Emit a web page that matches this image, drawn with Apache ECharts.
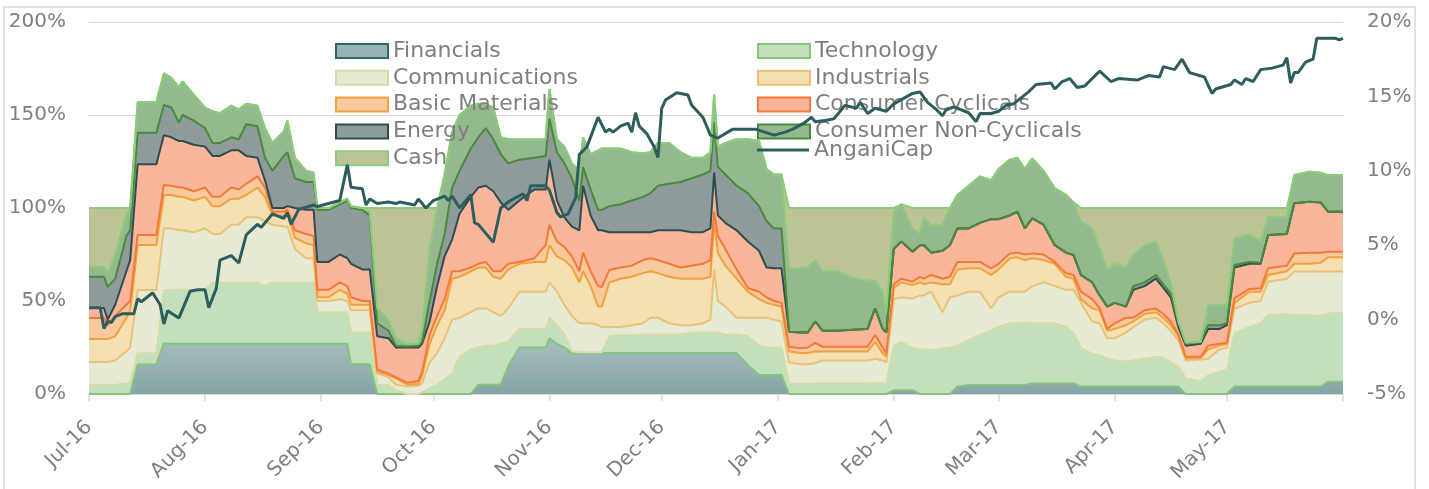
<!DOCTYPE html>
<html><head><meta charset="utf-8">
<script src="https://cdn.jsdelivr.net/npm/echarts@6/dist/echarts.min.js"></script>
<style>html,body{margin:0;padding:0;background:#fff}#c{width:1429px;height:489px}</style>
</head><body><div id="c"></div>
<script>
// ---- data (percent of portfolio) ----
const dates = ['2016-07-01','2016-07-05','2016-07-06','2016-07-08','2016-07-11','2016-07-12','2016-07-14','2016-07-19','2016-07-21','2016-07-23',
'2016-07-25','2016-07-26','2016-07-29','2016-08-01','2016-08-03','2016-08-05','2016-08-08','2016-08-10','2016-08-12','2016-08-15',
'2016-08-17','2016-08-19','2016-08-22','2016-08-23','2016-08-25','2016-08-28','2016-08-30','2016-08-31','2016-09-03','2016-09-06',
'2016-09-08','2016-09-09','2016-09-12','2016-09-14','2016-09-16','2016-09-19','2016-09-21','2016-09-24','2016-09-27','2016-09-28',
'2016-09-30','2016-10-02','2016-10-04','2016-10-06','2016-10-08','2016-10-11','2016-10-13','2016-10-15','2016-10-17','2016-10-19',
'2016-10-21','2016-10-24','2016-10-28','2016-10-31','2016-11-01','2016-11-03','2016-11-05','2016-11-07','2016-11-09','2016-11-10',
'2016-11-12','2016-11-14','2016-11-15','2016-11-17','2016-11-20','2016-11-23','2016-11-26','2016-11-28','2016-11-30','2016-12-03',
'2016-12-06','2016-12-09','2016-12-12','2016-12-14','2016-12-15','2016-12-16','2016-12-18','2016-12-21','2016-12-24','2016-12-27',
'2016-12-29','2016-12-31','2017-01-02','2017-01-04','2017-01-07','2017-01-09','2017-01-11','2017-01-13','2017-01-17','2017-01-21',
'2017-01-25','2017-01-27','2017-01-29','2017-01-30','2017-02-01','2017-02-03','2017-02-06','2017-02-08','2017-02-09','2017-02-11',
'2017-02-14','2017-02-16','2017-02-18','2017-02-21','2017-02-24','2017-02-27','2017-03-01','2017-03-04','2017-03-06','2017-03-08',
'2017-03-10','2017-03-13','2017-03-16','2017-03-19','2017-03-21','2017-03-23','2017-03-26','2017-03-28','2017-03-30','2017-04-01',
'2017-04-04','2017-04-06','2017-04-09','2017-04-12','2017-04-14','2017-04-16','2017-04-18','2017-04-20','2017-04-24','2017-04-26',
'2017-04-29','2017-05-01','2017-05-03','2017-05-07','2017-05-10','2017-05-12','2017-05-17','2017-05-19','2017-05-23','2017-05-26',
'2017-05-28','2017-06-01'];

const financials = [0,0,0,0,0,0,15.9,15.9,27.2,27, 27,27,27,27,27,27,27,27,27,27, 27,27,27,27,27,27,27,27,27,27,
27,16,16,16,0,0,0,0,0,0, 0,0,0,0,0,0,5,5,5,5, 15,25,25,25,30,27,25,22,22,22, 22,22,22,22,22,22,22,22,22,22,
22,22,22,22,22,22,22,22,15.6,10.2, 10.2,10.2,10.2,0,0,0,0,0,0,0, 0,0,0,0,2,2,2,0,0,0, 0,0,4,4.8,4.8,4.8,4.8,4.8,4.8,4.8,
5.7,5.7,5.7,5.7,5.7,4,4,4,4,4, 4,4,4,4,4,4,4,0,0,0, 0,0,4,4,4,4,4,4,4,4, 6.6,6.6];

const technology = [4.8,4.8,4.8,5,5.5,6,6,6,28.7,29, 29,29,29,29,33,33,33,33,33,33, 31,33,33,33,33,33,33,17,17,17,
17,17,17,17,4.8,4.8,2,0,0,1, 3,5,8,11,20,24,20,21,21,22, 13,10,10,10,11,10,7,1,0.5,0.5, 0.5,0.5,0.5,9,9.5,9.5,10,10,10,10,
10,11,11,11,11,11,10,10,15.4,15.8, 14.8,14.8,14.8,5.7,5.5,5.5,5.5,5.7,5.7,5.7, 5.7,6,5.7,5.5,24,26,22.6,24,24,23.5,
24.5,25,22,24.2,26.9,29.2,31.2,33.2,33.2,33.7, 32.3,32.3,32.3,30.3,27.3,20.6,17.5,17,15,14, 13.5,14,15,16,15.5,13,11,8.4,7,10,
12,13,28.6,32,34,38.5,39,38.5,38.5,38, 36.8,36.8];

const communications = [12.4,12.4,12.4,13,17.5,19,34,34,33.2,33, 32,32,31,33,26,26,31,31,35,35, 35,31,30,30,18,13,13,6,6,7,
6,12,12,12,6.2,4.2,3,4,4.5,5, 14,17,22,29,21,20,21,20,18,15, 18,20,20,20,19,18,16,19,15.5,15.5, 15.5,14.5,13.5,5,4.5,5.5,6,9,9,6,
5,4,5,7,34,17,15,9,10,15, 16,15,14,11.3,10.5,10.5,11,12.3,12.3,12.3, 12.3,13,12.3,11.5,25,24,26.8,29,29,31.5,
19.5,27,27,26,23.3,12,16,17,17,16.5, 20,22,20,20,23,24.4,17.5,17,11,12, 15.5,18,21,21,18.5,17,14,9.6,11.5,9,
12,12,13.4,13,12,17.9,19,23.3,23.3,23.8, 22.4,22.4];

const industrials = [12.4,12.4,12.4,13,18,20,24.2,24.2,17.9,18, 18,18,17,17,15,15,14,14,12,16, 13,5,6,7,6,8,7,2,2,5,
4,3,3,3,1,1,3.5,1,1,4, 10,15,15,22,22,22,22,22,19,20, 21,15,16,16,20,19,24,26,22,28, 20,10,11,24,26,26,27,25,24,25,
25,25,24,23,25,26,22,21,14,10, 8,8,8,5.8,6,6,6.5,4.8,4.8,4.8, 4.8,9,4,3,6,8,7.2,7,6,5,
15,7,14,12.6,12.6,18,15,18,18.5,17, 15,12,12,7,6,2,7,7,4,5, 4,3,3,3,3,3,2,1,1,5,
2,2,3,6,5,3.6,4,4.2,4.2,4.7, 7.7,7.7];

const basicMaterials = [11.3,11.3,7.4,11,7,5,5.4,5.4,5.4,5, 5,5,5,5,5,5,6,5,6,6, 5,2,2,2,4,5,5,4,4,4,
4,4,2,2,1,1,0.5,1,1.5,2, 5,5,6,4,3,2,2,3,3,4, 3,1,2,9,11,8,7,6,6,10, 8,11,10.5,6.7,6,6,7,7,7,7,
6,7,8,9,6,9,9,5,2,4, 3,2,2,2.6,2.6,3,4.5,2.6,2.6,2.6, 2.6,3.7,3,2,2,2,1.8,3,3,4,
3,4,4,3.4,3.4,3.5,3,2.6,2.5,3, 2.6,3,1,2,2,4,5,1,1,3, 4,2,2,2,2,2,1,1,0.5,2,
1,0.5,2.4,1.5,1.8,3.6,3,5.6,6,5.5, 3,3];

const consumerCyclicals = [5.3,5.3,3,6,18,22,38,38,26.8,26, 25,25,25,22,22,22,20,21,15,10, 4,2,2,2,12,13,14,15,15,15,
15,18,17,17,18,19,16,19,18,15, 7,16,23,17,31,38,41,41,43,37, 29,33,37,30,35,22,16,16,22,36, 30,30,30.5,20.3,19,18,15,14,16,18,
20,18,17,17,21,11,14,21,25,22, 16,17.6,18.6,8.1,8.4,8,11.5,8.6,8.6,9.1, 9.6,14.3,10,11,19,20,16.1,17,18,12,
15,17,18,18,21,26.5,24,20.4,22,14, 18.8,16,9,11,10.7,9,9,7,12,11, 6,15,13,16,14,13,4,6,7,9,
8,9.5,16.6,13.5,13.2,17.9,17,26.9,27.4,27, 21.5,21.5];

const energy = [16.8,16.8,17.6,14,19,16,17,17,16.2,16, 10,14,13,10,7,7,7,6,17,17, 12,20,28,29,16,15,15,28,28,27,
31,30,32,29,7,4,1,0.5,1,1, 11,12,12,28,23,26,27,31,28,26, 25,22,17,18,22,26,29,26,16,10, 14,11,11,14,15,17,19,21,24,25,
26,29,31,31,27,26,26,24,26,24, 25,21.4,21.4,0,0,0,0,0,0,0, 0,0,0,0,0,0,0,0,0,0,
0,0,0,0,0,0,0,0,0,0, 0,0,0,0,0,0,0,0,0,0, 0,2,2,2,2,2,2,1,1,2,
2,1,1.4,1,0.5,0,0,0,0,0, 0,0];

const consumerNonCyclicals = [5.5,5.5,7.4,13,12,12,16.3,16.3,17,16, 19,18,14,11,17,16,17,16,11,11, 16,15,13,17,11,6,5,1,1,1,
1,1,1,2,8,6,4,1.5,1,7, 28,30,32,30,30,23,18,13,17,9, 13,11,10,9,16,7,9,8,16,16, 19,32,33,31,30,26,23.5,22,23,22,
16,11,9,10,15,11,17,25,29,35, 28,29,29,34.1,34.6,35,33,32,32,28, 26,15,20,11,20,20,12.5,6,15,15,
14,20,18,23,25,21,27,30,29,32, 32.3,29,30.6,31,28.3,29,29,25,19.7,21, 21,17,20,18,13,6,1,0.5,0,10.8,
11,10,14.3,15,11.5,9.8,9.3,15.2,16.1,16, 19.7,19.7];

const cash = [31.5,31.5,35,25,3,0,0,0,0,0, 0,0,0,0,0,0,0,0,0,0, 0,0,0,0,0,0,0,0,0,0,
0,0,0,2,54,60,70,73,73,65, 22,0,0,0,0,0,0,0,0,0, 0,0,0,0,0,0,0,0,0,0, 0,0,0,0,0,0,0,0,0,0,
0,0,0,0,0,0,0,0,0,0, 0,0,0,32.4,32.4,32,28,34,34,37.5, 39,39,45,56,2,0,11,14,5,9,
9,0,0,0,0,0,0,0,0,0, 0,0,0,0,0,7,11,22,33.3,30, 32,25,20,18,28,40,61,72.5,72,52.2,
52,52,16.3,14,18,4.7,4.7,0,0,0, 0,0];

// AnganiCap cumulative return (right axis, %)
const anganiDates = ['2016-07-01','2016-07-04','2016-07-05','2016-07-06','2016-07-07','2016-07-08','2016-07-10','2016-07-13','2016-07-14','2016-07-15',
'2016-07-17','2016-07-18','2016-07-20','2016-07-21','2016-07-22','2016-07-25','2016-07-28','2016-07-30','2016-08-01','2016-08-02',
'2016-08-04','2016-08-05','2016-08-08','2016-08-10','2016-08-12','2016-08-15','2016-08-16','2016-08-19','2016-08-22','2016-08-23',
'2016-08-24','2016-08-26','2016-08-30','2016-08-31','2016-09-06','2016-09-08','2016-09-09','2016-09-12','2016-09-13','2016-09-14',
'2016-09-16','2016-09-19','2016-09-21','2016-09-22','2016-09-26','2016-09-27','2016-09-29','2016-10-01','2016-10-04','2016-10-05',
'2016-10-06','2016-10-08','2016-10-11','2016-10-12','2016-10-13','2016-10-17','2016-10-19','2016-10-21','2016-10-23','2016-10-25',
'2016-10-26','2016-10-27','2016-10-31','2016-11-01','2016-11-03','2016-11-04','2016-11-06','2016-11-08','2016-11-09','2016-11-11',
'2016-11-14','2016-11-16','2016-11-17','2016-11-18','2016-11-20','2016-11-22','2016-11-23','2016-11-24','2016-11-25','2016-11-27',
'2016-11-29','2016-11-30','2016-12-01','2016-12-02','2016-12-05','2016-12-08','2016-12-09','2016-12-12','2016-12-14','2016-12-16',
'2016-12-20','2016-12-23','2016-12-26','2016-12-31','2017-01-03','2017-01-05','2017-01-08','2017-01-10','2017-01-11','2017-01-14',
'2017-01-16','2017-01-19','2017-01-22','2017-01-23','2017-01-25','2017-01-27','2017-01-30','2017-02-01','2017-02-06','2017-02-08',
'2017-02-10','2017-02-12','2017-02-14','2017-02-15','2017-02-17','2017-02-21','2017-02-23','2017-02-24','2017-02-27','2017-03-01',
'2017-03-03','2017-03-05','2017-03-09','2017-03-11','2017-03-15','2017-03-16','2017-03-18','2017-03-20','2017-03-22','2017-03-24',
'2017-03-28','2017-03-31','2017-04-02','2017-04-07','2017-04-10','2017-04-13','2017-04-14','2017-04-17','2017-04-19','2017-04-21',
'2017-04-25','2017-04-27','2017-04-28','2017-05-02','2017-05-03','2017-05-05','2017-05-06','2017-05-08','2017-05-10','2017-05-13',
'2017-05-16','2017-05-17','2017-05-18','2017-05-19','2017-05-20','2017-05-22','2017-05-24','2017-05-25','2017-05-27','2017-05-30',
'2017-05-31','2017-06-01'];
const anganiCap = [0.8,0.8,-0.6,-0.1,-0.2,0.2,0.4,0.4,1.4,1.2,
1.6,1.8,1.0,-0.3,0.6,0.1,1.9,2.0,2.0,0.8,
2.1,4.0,4.3,3.8,5.7,6.4,6.2,7.1,6.8,7.2,
6.4,7.4,7.7,7.6,8.0,10.4,8.9,8.8,7.7,8.1,
7.8,7.9,7.8,7.9,7.7,8.1,7.5,8.0,8.3,8.0,
8.3,7.5,8.4,6.5,6.4,5.2,7.5,7.9,8.2,8.45,
8.0,9.0,9.0,8.7,7.2,6.9,7.1,8.2,11.1,11.6,
13.6,12.6,12.8,12.6,13.0,13.2,12.6,13.9,13.0,12.5,
11.6,10.9,14.2,14.75,15.25,15.1,14.4,13.6,12.4,12.2,
12.8,12.8,12.8,12.4,12.6,12.8,13.2,13.6,13.3,13.4,
13.5,14.4,14.2,14.6,13.85,14.2,14.0,14.5,15.2,15.3,
14.6,14.2,13.7,14.1,14.3,13.9,13.3,13.85,13.85,14.0,
14.4,14.5,15.3,15.8,15.9,15.5,16.0,16.2,15.6,15.7,
16.7,16.0,16.2,16.1,16.4,16.3,17.0,16.8,17.5,16.6,
16.3,15.2,15.5,15.8,16.1,15.8,16.2,16.0,16.8,16.9,
17.1,17.6,15.9,16.6,16.6,17.3,17.5,18.9,18.9,18.9,
18.8,18.9];

const leftTicks = [0, 50, 100, 150, 200];
const rightTicks = [-5, 0, 5, 10, 15, 20];
const monthNames = ['Jan','Feb','Mar','Apr','May','Jun','Jul','Aug','Sep','Oct','Nov','Dec'];
const axisStart = '2016-07-01', axisEnd = '2017-06-01';

// ---- styling ----
const names = ['Financials','Technology','Communications','Industrials','Basic Materials','Consumer Cyclicals','Energy','Consumer Non-Cyclicals','Cash'];
const values = [financials, technology, communications, industrials, basicMaterials, consumerCyclicals, energy, consumerNonCyclicals, cash];
const fills = ['#98b3b3','#c2e0bc','#e6ead2','#f3dfb1','#f7c99c','#fbb59b','#8f9a9a','#94b98e','#bcc495'];
const borders = ['#2f6868','#86c47e','#d5daa9','#e7c278','#f1a23e','#f27b38','#2c4e4e','#4a8a3c','#8ccb7c'];
const font = 'DejaVu Sans';
const txt = '#7f7f7f';
const grey = '#d9d9d9';

const areaSeries = names.map((n, i) => ({
  name: n, type: 'line', stack: 'alloc', symbol: 'none', silent: true, z: 2,
  data: dates.map((d, k) => [d, values[i][k]]),
  lineStyle: { width: 0, opacity: 0 },
  itemStyle: { color: fills[i], borderColor: borders[i] },
  areaStyle: {
    opacity: 1,
    color: i === 0 ? { type: 'linear', x: 0, y: 0, x2: 0, y2: 1,
      colorStops: [{ offset: 0, color: '#a6bebe' }, { offset: 1, color: '#86a5a5' }] } : fills[i]
  },
  emphasis: { disabled: true }
}));
const edgeSeries = names.map((n, i) => ({
  name: n, type: 'line', stack: 'edges', symbol: 'none', silent: true, z: 3,
  data: dates.map((d, k) => [d, values[i][k]]),
  lineStyle: { width: 2, color: borders[Math.min(i + 1, names.length - 1)] },
  emphasis: { disabled: true }
}));
const anganiSeries = {
  name: 'AnganiCap', type: 'line', yAxisIndex: 1, symbol: 'none', silent: true, z: 4,
  data: anganiDates.map((d, k) => [d, anganiCap[k]]),
  lineStyle: { width: 3, color: '#2e5d5d' }, itemStyle: { color: '#2e5d5d' },
  emphasis: { disabled: true }
};

const legendText = { fontFamily: font, fontSize: 22, color: txt, lineHeight: 20 };
const legItem = (i) => ({ name: names[i], itemStyle: { color: fills[i], borderColor: borders[i], borderWidth: 2 } });
const legendBase = { orient: 'vertical', itemWidth: 52, itemHeight: 14, itemGap: 4.8, icon: 'rect', padding: 0,
  textStyle: legendText, selectedMode: false };

const endTime = new Date(2017, 5, 1).getTime();
const chart = echarts.init(document.getElementById('c'), null, { renderer: 'canvas' });
chart.setOption({
  animation: false,
  backgroundColor: '#ffffff',
  graphic: [{ type: 'rect', silent: true, z: -10,
    shape: { x: 4, y: 7, width: 1411, height: 495 },
    style: { fill: 'none', stroke: grey, lineWidth: 1.5 } }],
  grid: { left: 89, right: 86, top: 22, bottom: 95, containLabel: false, outerBoundsMode: 'none' },
  legend: [
    Object.assign({}, legendBase, { left: 335, top: 40, data: [0, 2, 4, 6, 8].map(legItem) }),
    Object.assign({}, legendBase, { left: 757, top: 40, data: [1, 3, 5, 7].map(legItem) }),
    Object.assign({}, legendBase, { left: 757, top: 139, itemHeight: 3,
      data: [{ name: 'AnganiCap', itemStyle: { color: '#2e5d5d', borderWidth: 0 } }] })
  ],
  xAxis: {
    type: 'time', min: axisStart, max: axisEnd,
    splitNumber: 11, minInterval: 28 * 86400000, maxInterval: 31 * 86400000,
    axisLine: { show: true, lineStyle: { color: grey, width: 1.5 } },
    axisTick: { show: true, length: 7, lineStyle: { color: grey, width: 1.5 } },
    splitLine: { show: false },
    axisLabel: {
      rotate: 45, margin: 30, color: txt, fontFamily: font, fontSize: 20,
      showMinLabel: true, hideOverlap: false,
      formatter: (v) => {
        if (v >= endTime) return '';
        const d = new Date(v);
        return monthNames[d.getMonth()] + '-' + String(d.getFullYear()).slice(2);
      }
    }
  },
  yAxis: [
    { type: 'value', position: 'left', min: leftTicks[0], max: leftTicks[leftTicks.length - 1], interval: 50,
      axisLine: { show: false }, axisTick: { show: false },
      splitLine: { lineStyle: { color: grey, width: 1.2 } },
      axisLabel: { formatter: '{value}%', color: txt, fontFamily: font, fontSize: 20, margin: 23 } },
    { type: 'value', position: 'right', min: rightTicks[0], max: rightTicks[rightTicks.length - 1], interval: 5,
      axisLine: { show: false }, axisTick: { show: false }, splitLine: { show: false },
      axisLabel: { formatter: '{value}%', color: txt, fontFamily: font, fontSize: 20, margin: 24 } }
  ],
  series: areaSeries.concat(edgeSeries, [anganiSeries])
});
</script>
</body></html>
